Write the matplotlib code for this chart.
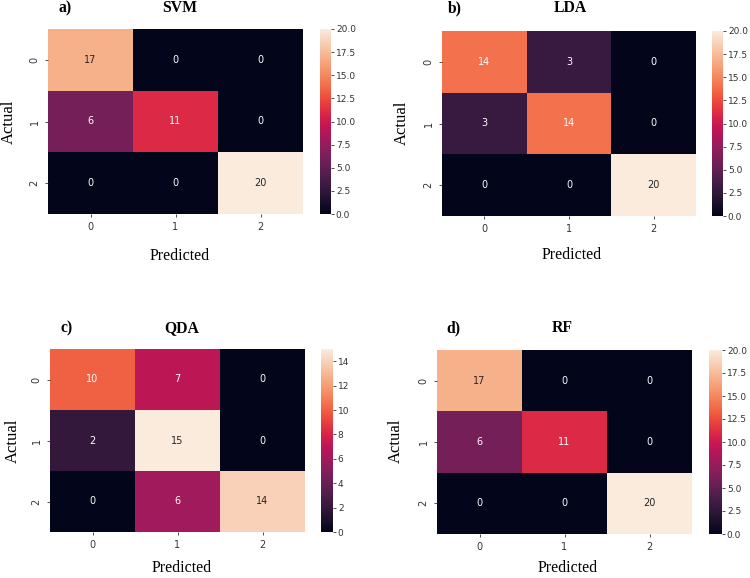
import numpy as np
import matplotlib
matplotlib.use("Agg")
import matplotlib.pyplot as plt
import seaborn as sns

# Confusion-matrix data
labels = ["0", "1", "2"]
svm_cm = [[17, 0, 0], [6, 11, 0], [0, 0, 20]]
lda_cm = [[14, 3, 0], [3, 14, 0], [0, 0, 20]]
qda_cm = [[10, 7, 0], [2, 15, 0], [0, 6, 14]]
rf_cm = [[17, 0, 0], [6, 11, 0], [0, 0, 20]]
panel_letters = ["a)", "b)", "c)", "d)"]
model_names = ["SVM", "LDA", "QDA", "RF"]

W, H = 750, 578
fig = plt.figure(figsize=(W / 100, H / 100), dpi=100)

def fx(px):
    return px / W

def fy(py):
    return 1 - py / H

# layout in pixel coords: heatmap (x0, x1, y0, y1), colorbar (x0, x1), titles, labels
layouts = [
    dict(hm=(48, 303, 29, 214), cb=(320, 331), let=(65, 8), name=(180, 8), act=(9, 122), pred=(180, 256)),
    dict(hm=(442, 696, 31, 216), cb=(712, 723), let=(455, 8), name=(570, 8), act=(402, 123), pred=(572, 255)),
    dict(hm=(50, 305, 349, 532), cb=(321, 333), let=(67, 328), name=(182, 328), act=(13, 441), pred=(182, 568)),
    dict(hm=(437, 692, 350, 534), cb=(709, 722), let=(453, 328), name=(562, 328), act=(396, 441), pred=(568, 568)),
]
matrices = [svm_cm, lda_cm, qda_cm, rf_cm]

serif = ["Liberation Serif", "DejaVu Serif"]
tick_color = "#333333"

for cm, lay, letter, name in zip(matrices, layouts, panel_letters, model_names):
    x0, x1, y0, y1 = lay["hm"]
    ax = fig.add_axes([fx(x0), fy(y1), fx(x1 - x0), (y1 - y0) / H])
    c0, c1 = lay["cb"]
    cax = fig.add_axes([fx(c0), fy(y1), fx(c1 - c0), (y1 - y0) / H])
    sns.heatmap(np.array(cm), ax=ax, cbar_ax=cax, annot=True, fmt="d",
                cmap="rocket", annot_kws={"size": 7},
                xticklabels=labels, yticklabels=labels)
    ax.tick_params(axis="both", labelsize=7, colors=tick_color, length=2.5, width=0.6)
    for t in ax.get_yticklabels():
        t.set_rotation(90)
        t.set_va("center")
    cax.tick_params(labelsize=6.5, colors=tick_color, length=2, width=0.6, pad=1.5)
    fig.text(fx(lay["let"][0]), fy(lay["let"][1]), letter, ha="center", va="center",
             fontsize=11.3, fontweight="bold", family=serif)
    fig.text(fx(lay["name"][0]), fy(lay["name"][1]), name, ha="center", va="center",
             fontsize=11.3, fontweight="bold", family=serif)
    fig.text(fx(lay["act"][0]), fy(lay["act"][1]), "Actual", ha="center", va="center",
             rotation=90, fontsize=12, family=serif)
    fig.text(fx(lay["pred"][0]), fy(lay["pred"][1]), "Predicted", ha="center", va="center",
             fontsize=11.5, family=serif)

fig.savefig("out.png", dpi=100)
